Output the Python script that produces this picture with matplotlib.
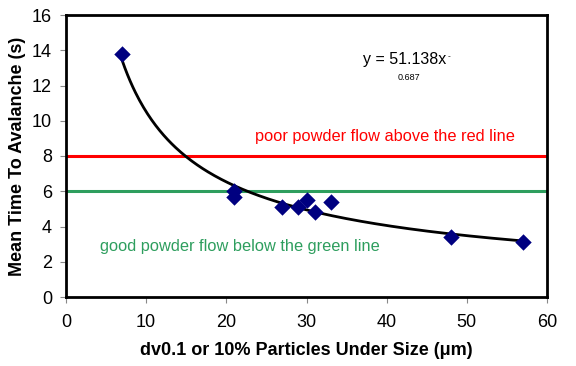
import numpy as np
import matplotlib
matplotlib.use("Agg")
import matplotlib.pyplot as plt

plt.rcParams['font.family'] = ['Liberation Sans', 'DejaVu Sans']

x_vals = [7, 21, 21, 27, 29, 30, 31, 33, 48, 57]
y_vals = [13.8, 6.0, 5.7, 5.1, 5.1, 5.5, 4.8, 5.4, 3.4, 3.1]
coef_a = 51.138
coef_b = -0.687
red_level = 8
green_level = 6
x_ticks = [0, 10, 20, 30, 40, 50, 60]
y_ticks = [0, 2, 4, 6, 8, 10, 12, 14, 16]

fig = plt.figure(figsize=(5.76, 3.66), dpi=100)
ax = fig.add_axes([66/576, 1-297/366, (547-66)/576, (297-15)/366])

ax.axhline(red_level, color='#ff0000', lw=2.2, zorder=2)
ax.axhline(green_level, color='#2e9e5e', lw=2.2, zorder=2)

xc = np.linspace(min(x_vals), max(x_vals), 300)
ax.plot(xc, coef_a * xc ** coef_b, color='black', lw=2, zorder=3)

ax.scatter(x_vals, y_vals, marker='D', s=70, color='#000080', zorder=4, linewidths=0)

ax.set_xlim(0, 60)
ax.set_ylim(0, 16)
ax.set_xticks(x_ticks)
ax.set_yticks(y_ticks)
ax.tick_params(labelsize=13, direction='out', length=4, width=0.8, color='#888888')
ax.tick_params(axis='x', pad=8)
ax.tick_params(axis='y', pad=6)
for s in ax.spines.values():
    s.set_linewidth(2)
    s.set_color('black')

ax.set_xlabel('dv0.1 or 10% Particles Under Size (\u03bcm)', fontsize=13, fontweight='bold', labelpad=8)
ax.set_ylabel('Mean Time To Avalanche (s)', fontsize=13, fontweight='bold', labelpad=4)

ax.text(23.6, 9.1, 'poor powder flow above the red line', color='#ff0000', fontsize=11.8, va='center')
ax.text(4.2, 2.85, 'good powder flow below the green line', color='#2e9e5e', fontsize=11.8, va='center')

ax.text(37.0, 13.45, 'y = 51.138x', fontsize=11.5, va='center', color='black')
ax.text(47.6, 13.65, '-', fontsize=6, va='center', color='black')
ax.text(41.4, 12.45, '0.687', fontsize=6.5, va='center', color='black')

fig.savefig('out.png', dpi=100)
